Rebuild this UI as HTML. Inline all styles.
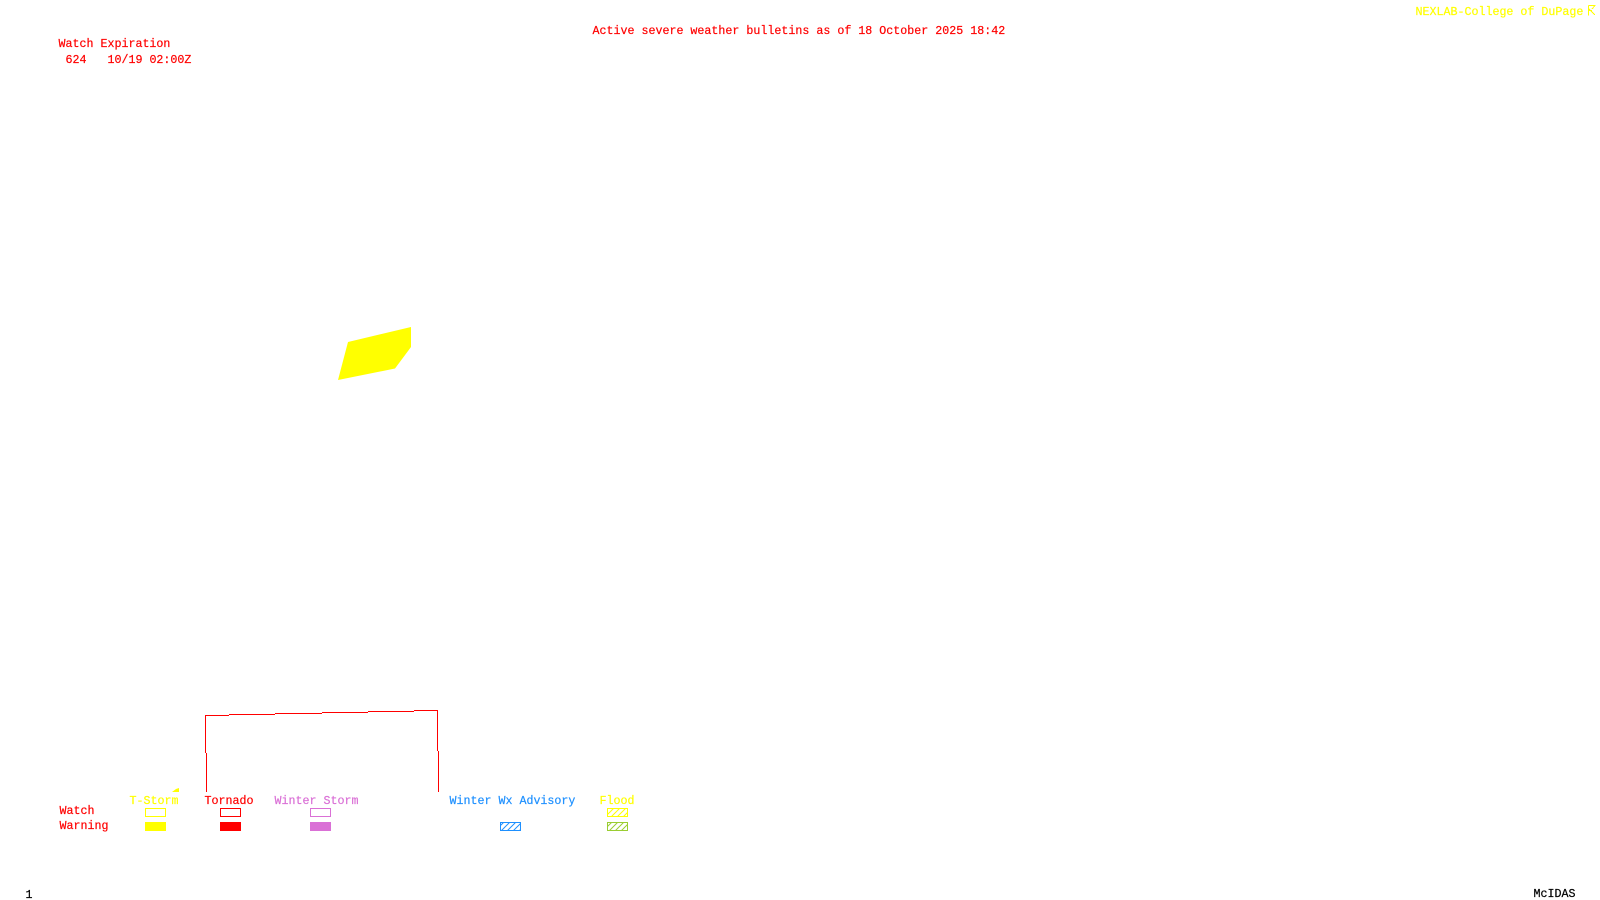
<!DOCTYPE html>
<html>
<head>
<meta charset="utf-8">
<title>Active severe weather bulletins</title>
<style>
html,body{margin:0;padding:0;background:#fff;width:1600px;height:900px;overflow:hidden}
svg{display:block}
text{font-family:"Liberation Mono",monospace;font-size:11.667px;white-space:pre;stroke-width:.2px}
.r{fill:#f00;stroke:#f00}.y{fill:#ff0;stroke:#ff0}.p{fill:#da70d6;stroke:#da70d6}.b{fill:#1e90ff;stroke:#1e90ff}.k{fill:#000;stroke:#000}
</style>
</head>
<body>
<svg width="1600" height="900" viewBox="0 0 1600 900" xmlns="http://www.w3.org/2000/svg">
<defs>
<pattern id="hy" width="6" height="6" patternUnits="userSpaceOnUse"><path d="M-1 7L7 -1M-1 1L1 -1M5 7L7 5" stroke="#ff0" stroke-width="1" fill="none"/></pattern>
<pattern id="hb" width="6" height="6" patternUnits="userSpaceOnUse"><path d="M-1 7L7 -1M-1 1L1 -1M5 7L7 5" stroke="#1e90ff" stroke-width="1" fill="none"/></pattern>
<pattern id="hg" width="6" height="6" patternUnits="userSpaceOnUse"><path d="M-1 7L7 -1M-1 1L1 -1M5 7L7 5" stroke="#9acd32" stroke-width="1" fill="none"/></pattern>
</defs>

<text class="y" x="1415.5" y="15">NEXLAB-College of DuPage</text>
<path d="M1588.5 5.5H1595.5M1588.5 5.5V15.5M1589 9L1595 15M1589 10.5H1592M1595 5.5L1592 9" stroke="#ff0" fill="none" stroke-width="1" shape-rendering="crispEdges"/>

<text class="r" x="592.5" y="34">Active severe weather bulletins as of 18 October 2025 18:42</text>
<text class="r" x="58.5" y="47">Watch Expiration</text>
<text class="r" x="65.5" y="63">624   10/19 02:00Z</text>

<polygon points="348,342 411,327 411,347 395,368.5 338,380" fill="#ff0"/>

<g fill="none" stroke="#f00" stroke-width="1" shape-rendering="crispEdges">
<path d="M205.5 753V715.5H229M229 714.5H275M275 713.5H322M322 712.5H368M368 711.5H414M414 710.5H437.5V751"/>
<path d="M206.5 753V792"/>
<path d="M438.5 751V792"/>
</g>

<polygon points="172,792 179,792 179,788 176,789" fill="#ff0"/>

<text class="y" x="129.5" y="804">T-Storm</text>
<text class="r" x="204.5" y="804">Tornado</text>
<text class="p" x="274.5" y="804">Winter Storm</text>
<text class="b" x="449.5" y="804">Winter Wx Advisory</text>
<text class="y" x="599.5" y="804">Flood</text>
<text class="r" x="59.5" y="814">Watch</text>
<text class="r" x="59.5" y="829">Warning</text>

<g shape-rendering="crispEdges" stroke-width="1">
<rect x="145.5" y="808.5" width="20" height="8" fill="none" stroke="#ff0"/>
<rect x="145" y="822" width="21" height="9" fill="#ff0"/>
<rect x="220.5" y="808.5" width="20" height="8" fill="none" stroke="#f00"/>
<rect x="220" y="822" width="21" height="9" fill="#f00"/>
<rect x="310.5" y="808.5" width="20" height="8" fill="none" stroke="#da70d6"/>
<rect x="310" y="822" width="21" height="9" fill="#da70d6"/>
</g>
<rect x="607.5" y="808.5" width="20" height="8" fill="url(#hy)" stroke="#ff0"/>
<rect x="500.5" y="822.5" width="20" height="8" fill="url(#hb)" stroke="#1e90ff"/>
<rect x="607.5" y="822.5" width="20" height="8" fill="url(#hg)" stroke="#9acd32"/>

<text class="k" x="25.5" y="898">1</text>
<text class="k" x="1533.5" y="897">McIDAS</text>
</svg>
</body>
</html>
